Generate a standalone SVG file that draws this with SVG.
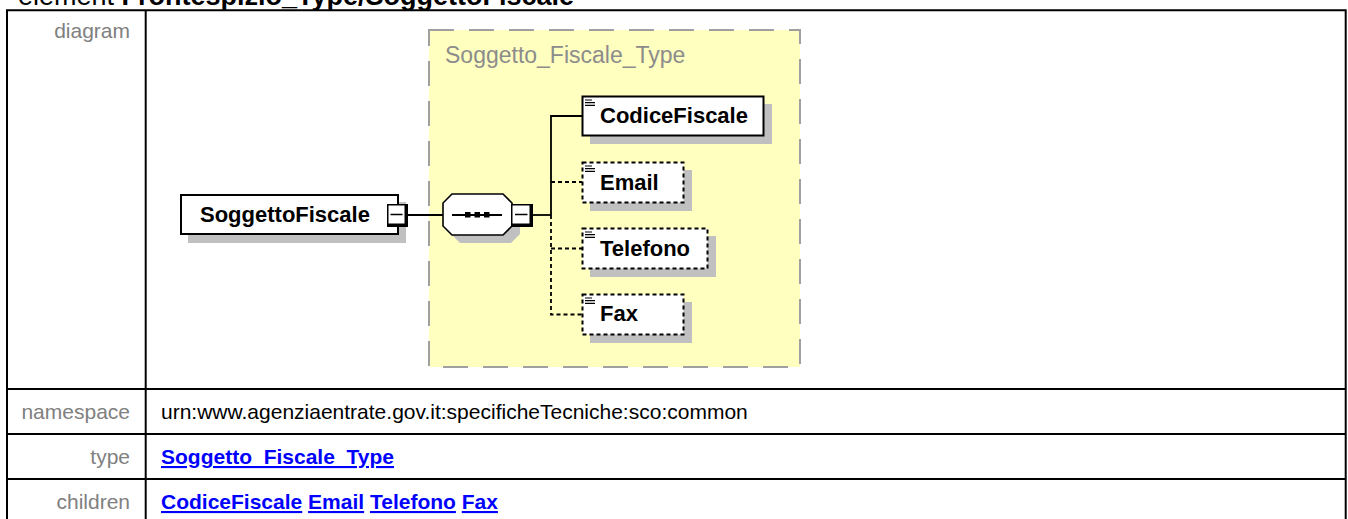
<svg xmlns="http://www.w3.org/2000/svg" width="1348" height="519" viewBox="0 0 1348 519">
<style>
 .f{font-family:"Liberation Sans",Arial,sans-serif}
 .lbl{font-size:21px;fill:#808080;text-anchor:end}
 .val{font-size:21px;fill:#000}
 .lnk{font-size:21px;font-weight:bold;fill:#0000FF}
 .grid{stroke:#000;stroke-width:2;fill:none}
 .shadow{fill:#C0C0C0}
 .box{fill:#fff;stroke:#000;stroke-width:2}
 .obox{fill:#fff;stroke:#000;stroke-width:2;stroke-dasharray:4 3}
 .name{font-size:22px;font-weight:bold;fill:#000}
 .icon{stroke:#000;stroke-width:1.2;fill:none}
 .conn{stroke:#000;stroke-width:1.8;fill:none}
 .dash{stroke-dasharray:4 3}
 .minus{stroke:#000;stroke-width:1.5}
</style>
<defs>
 <g id="ico"><path class="icon" d="M585 0.5H592M585 3.2H595M585 5.9H595"/></g>
</defs>

<text class="f" x="18" y="5" font-size="27" fill="#000">element <tspan font-weight="bold">Frontespizio_Type/SoggettoFiscale</tspan></text>

<g id="table">
 <path class="grid" d="M6 10.3H1346.7M7 9.3V519M1345.7 9.3V519M145.7 10.3V519M6 389H1346.7M6 434H1346.7M6 479H1346.7"/>
 <text class="f lbl" x="130" y="38">diagram</text>
 <text class="f lbl" x="130" y="419">namespace</text>
 <text class="f lbl" x="130" y="464">type</text>
 <text class="f lbl" x="130" y="509">children</text>
 <text class="f val" x="161" y="419">urn:www.agenziaentrate.gov.it:specificheTecniche:sco:common</text>
 <text class="f lnk" x="161" y="464" text-decoration="underline">Soggetto_Fiscale_Type</text>
 <text class="f lnk" x="161" y="509"><tspan text-decoration="underline">CodiceFiscale</tspan> <tspan text-decoration="underline">Email</tspan> <tspan text-decoration="underline">Telefono</tspan> <tspan text-decoration="underline">Fax</tspan></text>
</g>

<g id="type-Soggetto_Fiscale_Type">
 <rect x="429" y="30" width="371" height="337" fill="#FFFFC0" stroke="#A0A0A0" stroke-width="2" stroke-dasharray="25 15"/>
 <text class="f" x="445" y="63" font-size="23" fill="#8C8C8C">Soggetto_Fiscale_Type</text>
</g>

<g id="connectors">
 <path class="conn" d="M408 215H443"/>
 <path class="conn" d="M533 215H551"/>
 <path class="conn" d="M551 215V116H582"/>
 <path class="conn dash" d="M551 182H582"/>
 <path class="conn dash" d="M551 215V314.5H582"/>
 <path class="conn dash" d="M551 248.5H582"/>
</g>

<g id="node-SoggettoFiscale">
 <rect class="shadow" x="188" y="202" width="218" height="41"/>
 <rect class="box" x="181" y="195" width="217" height="39"/>
 <text class="f name" x="200" y="222">SoggettoFiscale</text>
 <rect x="387" y="204" width="21" height="23" fill="#000"/>
 <rect x="388.5" y="205.5" width="16" height="18" fill="#fff"/>
 <path class="minus" d="M390.5 214.5H402.5"/>
</g>

<g id="node-sequence">
 <polygon class="shadow" points="460,202 511,202 520,211 520,234 511,243 460,243 451,234 451,211"/>
 <polygon points="452,194 503,194 512,203 512,226 503,235 452,235 443,226 443,203" fill="#fff" stroke="#000" stroke-width="1.6"/>
 <path class="conn" d="M452 215H502"/>
 <rect x="465" y="212" width="5.5" height="5.5" fill="#000"/>
 <rect x="474.5" y="212" width="5.5" height="5.5" fill="#000"/>
 <rect x="484" y="212" width="5.5" height="5.5" fill="#000"/>
 <rect x="511" y="204" width="22" height="23" fill="#000"/>
 <rect x="512.5" y="205.5" width="17" height="18" fill="#fff"/>
 <path class="minus" d="M515 214.5H527.5"/>
</g>

<g id="node-CodiceFiscale">
 <rect class="shadow" x="590" y="104" width="182" height="40"/>
 <rect class="box" x="582.5" y="96.5" width="181" height="39"/>
 <use href="#ico" y="99.5"/>
 <text class="f name" x="600" y="123">CodiceFiscale</text>
</g>

<g id="node-Email">
 <rect class="shadow" x="590" y="170" width="102" height="41"/>
 <rect class="obox" x="582.5" y="162.5" width="101" height="40"/>
 <use href="#ico" y="165.5"/>
 <text class="f name" x="600" y="189.5">Email</text>
</g>

<g id="node-Telefono">
 <rect class="shadow" x="590" y="236" width="126" height="41"/>
 <rect class="obox" x="582.5" y="228.5" width="125" height="40"/>
 <use href="#ico" y="231.5"/>
 <text class="f name" x="600" y="255.5">Telefono</text>
</g>

<g id="node-Fax">
 <rect class="shadow" x="590" y="302" width="102" height="41"/>
 <rect class="obox" x="582.5" y="294.5" width="101" height="40"/>
 <use href="#ico" y="297.5"/>
 <text class="f name" x="600" y="321">Fax</text>
</g>
</svg>
